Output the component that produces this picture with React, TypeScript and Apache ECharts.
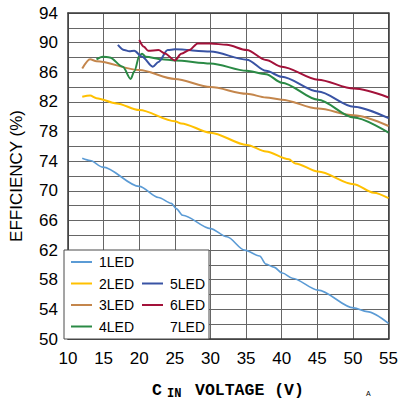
import React, { useEffect, useRef } from "react";
import * as echarts from "echarts";

const seriesNames = ["1LED", "2LED", "3LED", "4LED", "5LED", "6LED", "7LED"];
const seriesColors = ["#5b9bd5", "#ffc000", "#c4864c", "#2a8a45", "#3953a4", "#a3123a", "rgba(0,0,0,0)"];

const v1 = [12, 13.1, 14.9, 20, 22.7, 24.5, 25.2, 26.1, 30, 32.3, 34.8, 36.9, 37.8, 38.9, 40.1, 41.5, 45.1, 50.1, 52, 55];
const e1 = [74.4, 74.1, 73.2, 70.6, 69.1, 68.3, 67.6, 66.7, 64.9, 63.8, 62.0, 61.2, 60.1, 59.7, 58.9, 58.2, 56.6, 54.2, 53.7, 52.1];

const v2 = [12, 13.1, 14, 16.8, 20, 25, 25.9, 30, 35.1, 37.8, 41, 41.9, 45.1, 50.1, 52.9, 55];
const e2 = [82.7, 82.85, 82.5, 81.8, 80.9, 79.4, 79.1, 77.85, 76.2, 75.3, 74.25, 73.7, 72.6, 70.9, 69.75, 69.0];

const v3 = [12, 13.1, 14, 20, 25, 30, 35.1, 37.8, 40, 45.1, 50.1, 55];
const e3 = [86.5, 87.75, 87.5, 86.3, 85.1, 84.0, 83.1, 82.6, 82.3, 81.1, 80.2, 78.75];

const v4 = [14, 14.9, 15.85, 17.7, 18.8, 19.3, 20.05, 20.4, 20.9, 23.2, 25, 30, 35.1, 37.8, 40, 45.1, 50.1, 55];
const e4 = [87.75, 88.1, 88.0, 86.75, 85.1, 86.1, 88.3, 88.5, 88.1, 87.75, 87.6, 87.2, 86.2, 85.75, 84.6, 82.3, 79.9, 77.85];

const v5 = [17, 17.9, 18.6, 19.3, 20.4, 21.9, 22.7, 24, 25, 30, 35.1, 37.8, 40, 45.1, 50.1, 55];
const e5 = [89.7, 89.0, 88.85, 88.9, 88.1, 86.75, 87.4, 89.0, 89.1, 88.8, 87.7, 86.2, 85.4, 83.4, 81.35, 79.8];

const v6 = [20, 20.65, 21.25, 22.7, 23.6, 25, 25.9, 27.05, 28.2, 30, 32.3, 35.1, 37.8, 40, 45.1, 50.1, 55];
const e6 = [90.35, 89.45, 88.9, 89.0, 88.55, 87.6, 88.5, 89.0, 89.9, 89.9, 89.7, 89.0, 87.65, 86.75, 85.0, 83.8, 82.6];

const v7: number[] = [];
const e7: number[] = [];

const allV = [v1, v2, v3, v4, v5, v6, v7];
const allE = [e1, e2, e3, e4, e5, e6, e7];

const xMin = 10, xMax = 55, xStep = 5;
const yMin = 50, yMax = 94, yStep = 2, yLabelStep = 4;

const FONT = "'Liberation Sans', Arial, sans-serif";
const MONO = "'Liberation Mono', 'DejaVu Sans Mono', monospace";

export default function App() {
  const ref = useRef<HTMLDivElement>(null);
  useEffect(() => {
    document.body.style.margin = "0";
    const chart = echarts.init(ref.current!, null, { renderer: "svg" });
    const series = seriesNames.map((name, i) => ({
      name,
      type: "line",
      xAxisIndex: 0,
      yAxisIndex: 0,
      data: allV[i].map((v, j) => [v, allE[i][j]]),
      showSymbol: false,
      smooth: 0.3,
      smoothMonotone: "x",
      color: seriesColors[i],
      itemStyle: { color: seriesColors[i] },
      lineStyle: { width: i === 0 ? 1.6 : 2, color: seriesColors[i] },
      z: 2,
    }));
    const legendCommon = {
      orient: "vertical",
      icon: "rect",
      itemWidth: 21,
      itemHeight: 2,
      itemGap: 5.5,
      padding: 0,
      z: 5,
      textStyle: { fontFamily: FONT, fontSize: 14, color: "#000", lineHeight: 16, padding: [0, 0, 0, 2] },
    };
    chart.setOption({
      animation: false,
      grid: { left: 64, right: 9, top: 13, bottom: 61 },
      legend: [
        { ...legendCommon, left: 71, top: 254, data: seriesNames.slice(0, 4) },
        { ...legendCommon, left: 142, top: 275.5, data: seriesNames.slice(4) },
      ],
      xAxis: [
        {
          type: "value",
          min: xMin,
          max: xMax,
          interval: xStep,
          axisLine: { show: true, lineStyle: { color: "#3a3a3a", width: 1.5 } },
          axisTick: { show: false },
          axisLabel: { fontFamily: FONT, fontSize: 17, color: "#000", margin: 11 },
          splitLine: { show: true, lineStyle: { color: "#666", width: 1 } },
        },
        {
          type: "value",
          position: "top",
          min: xMin,
          max: xMax,
          axisLine: { show: true, onZero: false, lineStyle: { color: "#3a3a3a", width: 1.5 } },
          axisTick: { show: false },
          axisLabel: { show: false },
          splitLine: { show: false },
        },
      ],
      yAxis: [
        {
          type: "value",
          min: yMin,
          max: yMax,
          interval: yStep,
          name: "EFFICIENCY (%)",
          nameLocation: "middle",
          nameGap: 43,
          nameTextStyle: { fontFamily: FONT, fontSize: 17, color: "#000" },
          axisLine: { show: true, lineStyle: { color: "#3a3a3a", width: 1.5 } },
          axisTick: { show: false },
          axisLabel: {
            fontFamily: FONT,
            fontSize: 17,
            color: "#000",
            margin: 10,
            formatter: (v: number) => ((v - yMin) % yLabelStep === 0 ? String(v) : ""),
          },
          splitLine: { show: true, lineStyle: { color: "#666", width: 1 } },
        },
        {
          type: "value",
          position: "right",
          min: yMin,
          max: yMax,
          axisLine: { show: true, onZero: false, lineStyle: { color: "#3a3a3a", width: 1.5 } },
          axisTick: { show: false },
          axisLabel: { show: false },
          splitLine: { show: false },
        },
      ],
      graphic: [
        {
          type: "rect",
          z: 3,
          shape: { x: 64, y: 250, width: 145, height: 89 },
          style: { fill: "#fff", stroke: "#4a4a4a", lineWidth: 1 },
        },
        {
          type: "text",
          left: 152,
          top: 382,
          style: { text: "C", font: `bold 16.5px ${MONO}`, fill: "#000" },
        },
        {
          type: "text",
          left: 167,
          top: 388,
          style: { text: "IN", font: `bold 12px ${MONO}`, fill: "#000" },
        },
        {
          type: "text",
          left: 195,
          top: 382,
          style: { text: "VOLTAGE (V)", font: `bold 16.5px ${MONO}`, fill: "#000" },
        },
        {
          type: "text",
          left: 366,
          top: 390,
          style: { text: "A", font: `7px ${FONT}`, fill: "#000" },
        },
      ],
      series,
    });
    return () => chart.dispose();
  }, []);
  return <div ref={ref} style={{ width: 401, height: 400 }} />;
}
